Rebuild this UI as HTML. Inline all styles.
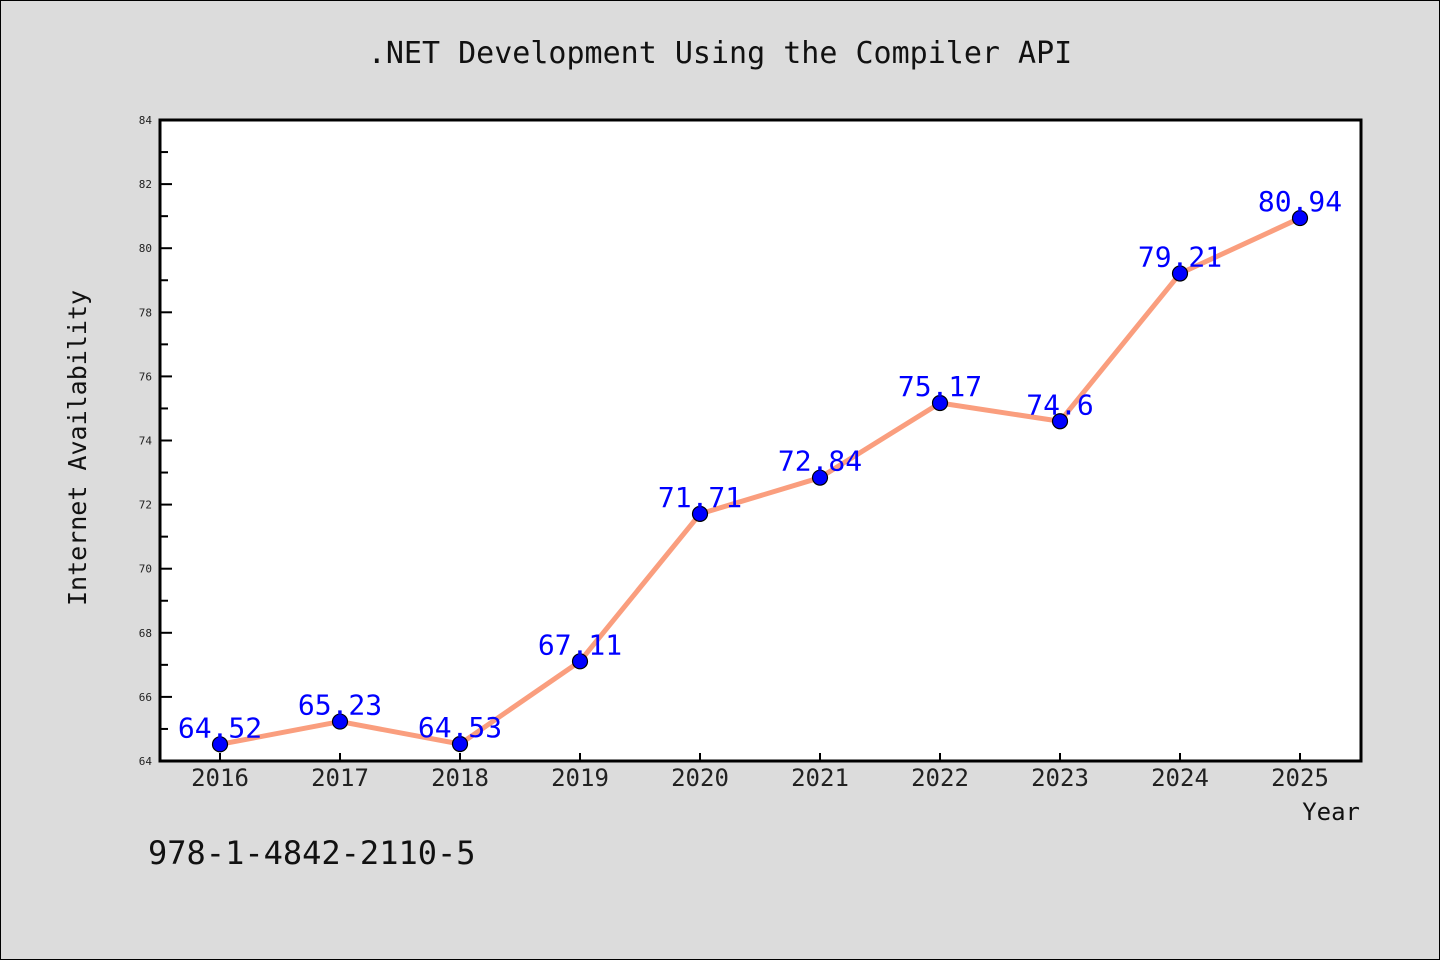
<!DOCTYPE html>
<html><head><meta charset="utf-8"><style>
body{margin:0;background:#dcdcdc}
svg{display:block}
text{font-family:"WenQuanYi Zen Hei","DejaVu Sans Mono",monospace}
</style></head><body>
<svg id="chart" width="1440" height="960" viewBox="0 0 1440 960">
<rect x="0.5" y="0.5" width="1439" height="959" fill="#dcdcdc" stroke="#000"/>
<text x="720" y="63" text-anchor="middle" font-size="30" fill="#111">.NET Development Using the Compiler API</text>
<rect x="160" y="120" width="1201" height="641" fill="#fff"/>
<g id="axes"></g>
<g id="series"></g>
<rect x="160" y="120" width="1201" height="641" fill="none" stroke="#000" stroke-width="3"/>
<text x="86" y="448" transform="rotate(-90 86 448)" text-anchor="middle" font-size="25" fill="#111">Internet Availability</text>
<text x="1360" y="820" text-anchor="end" font-size="24" fill="#111">Year</text>
<text x="148" y="864" font-size="32" fill="#111">978-1-4842-2110-5</text>
</svg>
<script>
const years=[2016,2017,2018,2019,2020,2021,2022,2023,2024,2025];
const values=[64.52,65.23,64.53,67.11,71.71,72.84,75.17,74.6,79.21,80.94];
const yTicks=[64,66,68,70,72,74,76,78,80,82,84];
const NS="http://www.w3.org/2000/svg";
const X0=160,X1=1361,Y0=761,Y1=120;
const x=i=>220+i*(1300-220)/(years.length-1);
const y=v=>Y0-(v-64)/(84-64)*(Y0-Y1);
function mk(t,a,p){const e=document.createElementNS(NS,t);for(const k in a)e.setAttribute(k,a[k]);p.appendChild(e);return e;}
const axes=document.getElementById('axes'),ser=document.getElementById('series');
yTicks.forEach(v=>{
 const tl=mk('line',{x1:X0,x2:X0+12,y1:y(v),y2:y(v),stroke:'#000','stroke-width':2},axes);
 
 
 const t=mk('text',{x:152,y:y(v)+4,'text-anchor':'end','font-size':11,fill:'#222'},axes);
 t.textContent=v;
 
 
 if(v<84){const m=mk('line',{x1:X0,x2:X0+8,y1:y(v+1),y2:y(v+1),stroke:'#000','stroke-width':2},axes);
 
 }
});
years.forEach((yr,i)=>{
 const tl=mk('line',{x1:x(i),x2:x(i),y1:Y0,y2:Y0-8,stroke:'#000','stroke-width':2},axes);
 
 
 const t=mk('text',{x:x(i),y:786,'text-anchor':'middle','font-size':24,fill:'#222'},axes);
 t.textContent=yr;
 
 
});
const pl=mk('polyline',{points:values.map((v,i)=>x(i)+','+y(v)).join(' '),fill:'none',stroke:'#fa9e7e','stroke-width':5,'stroke-linejoin':'round'},ser);


values.forEach((v,i)=>{
 const c=mk('circle',{cx:x(i),cy:y(v),r:7.5,fill:'#0000ff',stroke:'#000','stroke-width':1.2},ser);
 
 
 const t=mk('text',{x:x(i),y:y(v)-7,'text-anchor':'middle','font-size':28,fill:'#0000ff'},ser);
 t.textContent=v;
 
 
});
</script>
</body></html>
